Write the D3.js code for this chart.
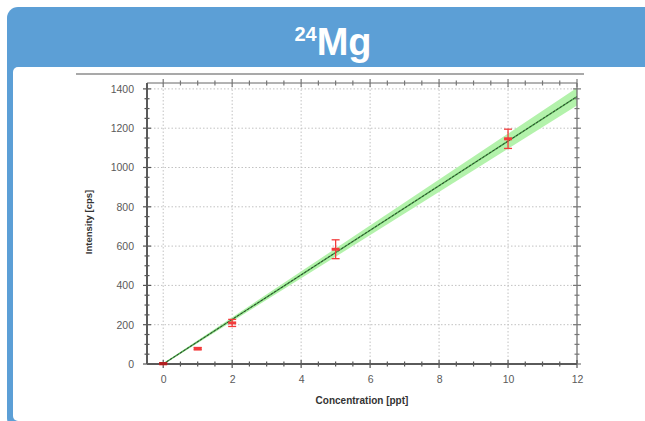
<!DOCTYPE html>
<html>
<head>
<meta charset="utf-8">
<script src="https://cdn.jsdelivr.net/npm/d3@7"></script>
<style>
  html, body { margin: 0; padding: 0; background: #ffffff; }
  svg { display: block; }
</style>
</head>
<body>
<svg id="chart" width="645" height="421"></svg>
<script>
// ---- data ----
const titleMain = "Mg";
const titleSup = "24";
const xLabel = "Concentration [ppt]";
const yLabel = "Intensity [cps]";
const xTicks = [0, 2, 4, 6, 8, 10, 12];
const yTicks = [0, 200, 400, 600, 800, 1000, 1200, 1400];
const concentration = [0, 1, 2, 5, 10];
const intensity = [2, 78, 209, 584, 1146];
const intensityErr = [5, 6, 18, 48, 49];
const fitX = [0, 12];
const fitY = [0, 1361];
const bandLow = [-4, 1316];
const bandHigh = [4, 1406];

// ---- layout ----
const svg = d3.select("#chart");
const blue = "#5c9fd6";

// panel
svg.append("rect").attr("x", 7).attr("y", 7).attr("width", 720).attr("height", 422)
  .attr("rx", 11).attr("fill", blue);
svg.append("rect").attr("x", 13).attr("y", 67).attr("width", 720).attr("height", 354)
  .attr("rx", 5).attr("fill", "#ffffff");

// title
const title = svg.append("text").attr("x", 333).attr("y", 55)
  .attr("text-anchor", "middle").attr("fill", "#ffffff")
  .attr("font-family", "'Liberation Sans Narrow', 'Liberation Sans', Arial, sans-serif")
  .attr("font-weight", "bold");
title.append("tspan").attr("font-size", 20).attr("dy", -14).text(titleSup);
title.append("tspan").attr("font-size", 38).attr("dy", 14).text(titleMain);

// top thin frame line of the chart image
svg.append("line").attr("x1", 76).attr("x2", 584).attr("y1", 74).attr("y2", 74)
  .attr("stroke", "#8c8c8c").attr("stroke-width", 1.5);

// scales
const x = d3.scaleLinear().domain([-0.47, 12]).range([147, 577]);
const y = d3.scaleLinear().domain([0, 1430]).range([364, 83]);
const [x0, x1] = x.range();
const [y0, y1] = y.range();

// gridlines
const g = svg.append("g");
g.selectAll(".vg").data(xTicks.filter(d => d < 12)).enter().append("line")
  .attr("x1", d => x(d)).attr("x2", d => x(d)).attr("y1", y0).attr("y2", y1)
  .attr("stroke", "#c2c2c2").attr("stroke-width", 1).attr("stroke-dasharray", "1.5,2");
g.selectAll(".hg").data(yTicks.filter(d => d > 0)).enter().append("line")
  .attr("x1", x0).attr("x2", x1).attr("y1", d => y(d)).attr("y2", d => y(d))
  .attr("stroke", "#c2c2c2").attr("stroke-width", 1).attr("stroke-dasharray", "1.5,2");

// confidence band
const bandData = fitX.map((v, i) => ({x: v, lo: bandLow[i], hi: bandHigh[i]}));
g.append("path").datum(bandData)
  .attr("d", d3.area().x(d => x(d.x)).y0(d => y(d.lo)).y1(d => y(d.hi)))
  .attr("fill", "#b3f2ab");

// fit line
const fitData = fitX.map((v, i) => ({x: v, y: fitY[i]}));
const lineGen = d3.line().x(d => x(d.x)).y(d => y(d.y));
g.append("path").datum(fitData).attr("d", lineGen)
  .attr("fill", "none").attr("stroke", "#4caa4c").attr("stroke-width", 1.4);
g.append("path").datum(fitData).attr("d", lineGen)
  .attr("fill", "none").attr("stroke", "#2f3f2f").attr("stroke-width", 1)
  .attr("stroke-dasharray", "2.5,1.5");

// frame top/right
g.append("line").attr("x1", x0).attr("x2", x1).attr("y1", y1).attr("y2", y1)
  .attr("stroke", "#666").attr("stroke-width", 1);
g.append("line").attr("x1", x1).attr("x2", x1).attr("y1", y0).attr("y2", y1)
  .attr("stroke", "#666").attr("stroke-width", 1.2);

// minor/major ticks
const xMinor = d3.range(0, 12.01, 0.5);
const yMinor = d3.range(0, 1430, 50);
function isMajorX(v) { return Math.abs(v / 2 - Math.round(v / 2)) < 1e-6; }
function isMajorY(v) { return v % 200 === 0; }
[y0, y1].forEach((yy, k) => {
  g.selectAll(null).data(xMinor).enter().append("line")
    .attr("x1", d => x(d)).attr("x2", d => x(d))
    .attr("y1", d => yy - (isMajorX(d) ? 4 : 2.5)).attr("y2", d => yy + (isMajorX(d) ? 4 : 2.5))
    .attr("stroke", k === 0 ? "#555" : "#777").attr("stroke-width", 1.2);
});
[x0, x1].forEach((xx, k) => {
  g.selectAll(null).data(yMinor).enter().append("line")
    .attr("y1", d => y(d)).attr("y2", d => y(d))
    .attr("x1", d => xx - (isMajorY(d) ? 4 : 2.5)).attr("x2", d => xx + (isMajorY(d) ? 4 : 2.5))
    .attr("stroke", k === 0 ? "#555" : "#777").attr("stroke-width", 1.2);
});

// main axes (left, bottom)
g.append("line").attr("x1", x0).attr("x2", x1).attr("y1", y0).attr("y2", y0)
  .attr("stroke", "#5a5a5a").attr("stroke-width", 2);
g.append("line").attr("x1", x0).attr("x2", x0).attr("y1", y0).attr("y2", y1)
  .attr("stroke", "#5a5a5a").attr("stroke-width", 2);

// tick labels via d3 axes
const fontFam = "'Liberation Sans', Arial, sans-serif";
const xAxis = svg.append("g").attr("transform", `translate(0,${y0})`)
  .call(d3.axisBottom(x).tickValues(xTicks).tickSize(0).tickPadding(12).tickFormat(d3.format("d")));
const yAxis = svg.append("g").attr("transform", `translate(${x0},0)`)
  .call(d3.axisLeft(y).tickValues(yTicks).tickSize(0).tickPadding(13).tickFormat(d3.format("d")));
[xAxis, yAxis].forEach(a => {
  a.select(".domain").remove();
  a.selectAll("text").attr("font-family", fontFam).attr("font-size", 10.5).attr("fill", "#5a5a5a");
});

// axis titles
svg.append("text").attr("x", 362).attr("y", 404).attr("text-anchor", "middle")
  .attr("font-family", fontFam).attr("font-size", 10).attr("font-weight", "bold")
  .attr("fill", "#333").text(xLabel);
svg.append("text").attr("transform", "translate(92,222) rotate(-90)").attr("text-anchor", "middle")
  .attr("font-family", fontFam).attr("font-size", 9.5).attr("font-weight", "bold")
  .attr("fill", "#333").text(yLabel);

// error bars
const pts = concentration.map((c, i) => ({x: c, y: intensity[i], e: intensityErr[i]}));
const red = "#f23c3c";
const eb = svg.append("g");
eb.selectAll(".ev").data(pts).enter().append("line")
  .attr("x1", d => x(d.x)).attr("x2", d => x(d.x))
  .attr("y1", d => y(d.y - d.e)).attr("y2", d => y(d.y + d.e))
  .attr("stroke", red).attr("stroke-width", 1.3);
["lo", "hi"].forEach(s => {
  eb.selectAll(null).data(pts).enter().append("line")
    .attr("x1", d => x(d.x) - 4).attr("x2", d => x(d.x) + 4)
    .attr("y1", d => y(s === "lo" ? d.y - d.e : d.y + d.e))
    .attr("y2", d => y(s === "lo" ? d.y - d.e : d.y + d.e))
    .attr("stroke", red).attr("stroke-width", 1.3);
});
eb.selectAll(".mk").data(pts).enter().append("rect")
  .attr("x", d => x(d.x) - 4).attr("y", d => y(d.y) - 1.5)
  .attr("width", 8).attr("height", 3).attr("fill", (d, i) => i === 0 ? "#b02020" : red);
</script>
</body>
</html>
